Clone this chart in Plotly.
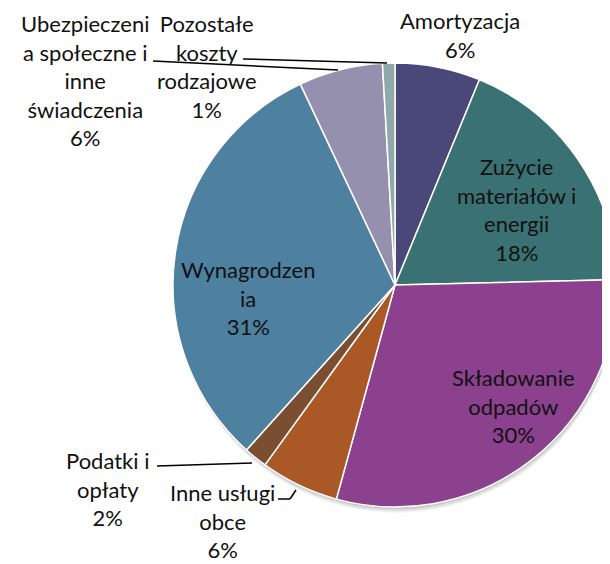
import plotly.graph_objects as go

# ---- data ----
categories = [
    "Amortyzacja",
    "Zużycie materiałów i energii",
    "Składowanie odpadów",
    "Inne usługi obce",
    "Podatki i opłaty",
    "Wynagrodzenia",
    "Ubezpieczenia społeczne i inne świadczenia",
    "Pozostałe koszty rodzajowe",
]
values = [6.2, 18.4, 29.6, 5.7, 1.7, 31.3, 6.1, 0.9]
# label text as wrapped in the original chart
label_lines = [
    "Amortyzacja",
    "Zużycie<br>materiałów i<br>energii",
    "Składowanie<br>odpadów",
    "Inne usługi<br>obce",
    "Podatki i<br>opłaty",
    "Wynagrodzen<br>ia",
    "Ubezpieczeni<br>a społeczne i<br>inne<br>świadczenia",
    "Pozostałe<br>koszty<br>rodzajowe",
]
colors = ["#4a4878", "#3a7274", "#8b418d", "#aa5826",
          "#7b4e31", "#4e80a0", "#9490ae", "#8fa9ab"]

W, H = 610, 564
OFF = 8  # page body margin


def px(x, y):
    """page pixel -> paper coords"""
    return (x - OFF) / W, 1 - (y - OFF) / H


# pie geometry (page pixels)
cx, cy, r = 395, 285, 222


def dom(cx_, cy_, r_):
    x0, y1 = px(cx_ - r_, cy_ - r_)
    x1, y0 = px(cx_ + r_, cy_ + r_)
    return dict(x=[max(0, x0), min(1, x1)], y=[max(0, y0), min(1, y1)])


fig = go.Figure()

# soft shadow
for off, op in [(6, 0.06), (4, 0.08), (2, 0.10)]:
    fig.add_trace(go.Pie(
        values=[1], labels=["shadow"], marker=dict(colors=["#000000"]),
        opacity=op, textinfo="none", hoverinfo="skip", showlegend=False,
        sort=False, domain=dom(cx + off * 0.3, cy + off, r),
    ))

fig.add_trace(go.Pie(
    labels=categories,
    values=values,
    sort=False,
    direction="clockwise",
    rotation=0,
    marker=dict(colors=colors, line=dict(color="white", width=1.5)),
    textinfo="none",
    hoverinfo="label+percent",
    showlegend=False,
    domain=dom(cx, cy, r),
))

total = sum(values)
pcts = [f"{round(v / total * 100)}%" for v in values]

# label centre positions (page pixels)
label_pos = [
    (460, 35),
    (517, 209),
    (513, 406),
    (222, 521),
    (108, 489),
    (248, 298),
    (85, 81),
    (207, 67),
]

annotations = []
for txt, pct, (lx, ly) in zip(label_lines, pcts, label_pos):
    x, y = px(lx, ly)
    annotations.append(dict(
        x=x, y=y, xref="paper", yref="paper",
        text=f"{txt}<br>{pct}", showarrow=False,
        xanchor="center", yanchor="middle", align="center",
        font=dict(family="Lato, Carlito, sans-serif", size=22, color="#111111"),
    ))


def seg(p0, p1):
    x0, y0 = px(*p0)
    x1, y1 = px(*p1)
    return dict(type="line", xref="paper", yref="paper", x0=x0, y0=y0,
                x1=x1, y1=y1, line=dict(color="black", width=1.5))


shapes = [
    seg((153, 61), (338, 70)),     # Ubezpieczenia
    seg((243, 59), (387, 63)),     # Pozostałe
    seg((157, 466), (252, 463)),   # Podatki
    seg((278, 499), (290, 499)),   # Inne usługi
    seg((290, 499), (296, 490)),
]

fig.update_layout(
    width=W, height=H,
    margin=dict(l=0, r=0, t=0, b=0),
    paper_bgcolor="white",
    plot_bgcolor="white",
    annotations=annotations,
    shapes=shapes,
)

fig.write_html("out.html")
